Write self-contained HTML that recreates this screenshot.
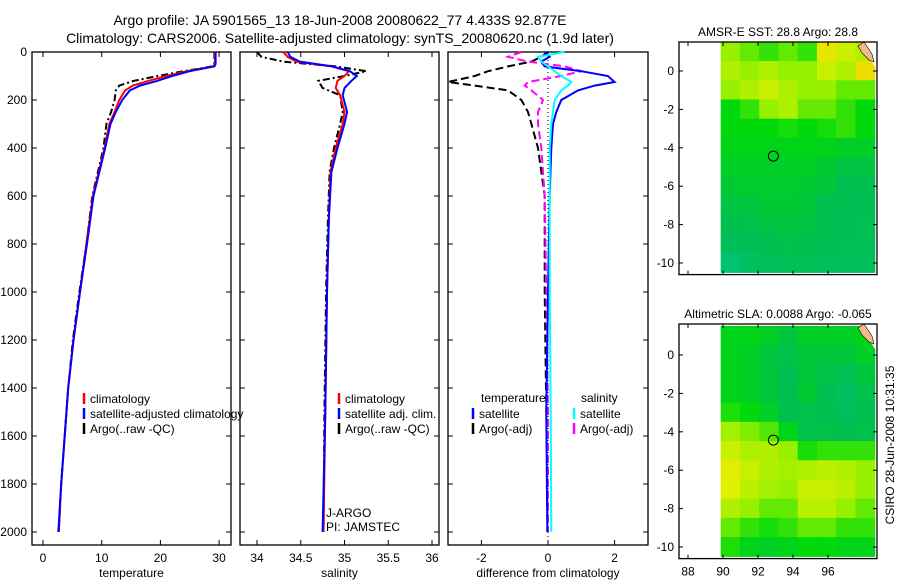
<!DOCTYPE html>
<html><head><meta charset="utf-8"><style>
body{margin:0;background:#fff;width:900px;height:580px;overflow:hidden}
svg{font-family:"Liberation Sans",sans-serif}
</style></head><body>
<svg id="c" width="900" height="580" xmlns="http://www.w3.org/2000/svg">
<text x="340" y="25" font-size="14" text-anchor="middle">Argo profile: JA 5901565_13 18-Jun-2008 20080622_77 4.433S 92.877E</text>
<text x="340" y="43" font-size="14" text-anchor="middle">Climatology: CARS2006. Satellite-adjusted climatology: synTS_20080620.nc (1.9d later)</text>
<g id="g"></g>
</svg>
<script>
// ---- data ----
const tDepth=[0,50,60,80,100,120,140,160,200,250,300,400,600,800,1000,1200,1400,1600,1800,2000];
const tClim=[29.3,29.3,29,24.5,21,18,15.3,14,13,12.2,11.3,10.5,8.5,7.4,6.3,5.2,4.3,3.7,3.1,2.7];
const tSat=[29.4,29.4,29.2,25,22,19.5,16.5,14.8,13.5,12.4,11.5,10.6,8.6,7.5,6.3,5.2,4.3,3.7,3.1,2.6];
const tArgo=[29.2,29.2,28.8,24,19.5,15.5,13,12.4,12.2,11.6,10.8,10.3,8.4,7.4,6.2,5.1,4.3,3.7,3.1,2.7];
const sDepth=[0,20,40,60,80,100,120,150,180,250,300,400,500,700,1000,1500,2000];
const sClim=[34.3,34.35,34.45,34.85,35.05,35.0,34.92,34.9,34.95,35.0,34.98,34.9,34.84,34.82,34.8,34.78,34.76];
const sSat=[34.35,34.38,34.49,34.86,35.06,35.14,35.08,35.0,34.98,35.03,35.0,34.92,34.85,34.82,34.8,34.78,34.75];
const sArgo=[34.0,34.05,34.3,34.9,35.25,35.0,34.7,34.75,34.95,34.98,34.95,34.88,34.83,34.81,34.79,34.77,34.76];
const dDepth=[0,20,40,60,80,100,125,140,160,200,250,300,400,600,1000,1500,2000];
const dTSat=[-0.1,0.05,-0.2,-0.1,1.0,1.8,2.0,1.4,0.9,0.4,0.25,0.15,0.1,0.05,0.0,-0.05,-0.02];
const dTArgo=[0,-0.2,-0.5,-1.2,-1.8,-2.2,-3.0,-2.2,-1.2,-0.8,-0.6,-0.5,-0.3,-0.1,-0.1,-0.05,0];
const dSSat=[0.5,-0.3,-0.2,0,0.2,0.4,0.7,0.6,0.4,0.2,0.15,0.1,0.05,0.05,0.05,0.08,0.1];
const dSArgo=[-0.8,-1.2,-0.6,0.5,1.0,0.4,-0.6,-0.7,-0.5,-0.15,-0.3,-0.3,-0.2,-0.1,-0.05,0,0];
const depthTicks=[0,200,400,600,800,1000,1200,1400,1600,1800,2000];
const tempTicks=[0,10,20,30];
const salTicks=[34,34.5,35,35.5,36];
const diffTicks=[-2,0,2];
const latTicks=[0,-2,-4,-6,-8,-10];
const lonTicks=[88,90,92,94,96];
const sstGrid=[
[.55,.5,.45,.5,.45,.75,.65,.6],
[.6,.55,.6,.55,.55,.65,.6,.8],
[.55,.6,.65,.6,.55,.55,.5,.5],
[.4,.45,.55,.6,.5,.5,.45,.4],
[.4,.4,.4,.42,.4,.42,.45,.4],
[.38,.38,.38,.38,.38,.38,.36,.36],
[.36,.36,.36,.36,.36,.34,.32,.32],
[.34,.35,.35,.35,.34,.33,.3,.3],
[.32,.33,.34,.34,.33,.3,.3,.29],
[.3,.31,.32,.33,.32,.3,.29,.28],
[.26,.29,.3,.31,.3,.29,.28,.28],
[.18,.24,.27,.28,.28,.27,.26,.26]];
const slaGrid=[
[.38,.38,.36,.33,.36,.36,.36,.38],
[.38,.36,.33,.31,.33,.33,.33,.36],
[.38,.36,.33,.3,.33,.31,.28,.33],
[.38,.36,.33,.3,.34,.3,.24,.31],
[.43,.4,.36,.3,.31,.3,.26,.3],
[.58,.53,.48,.38,.31,.31,.3,.31],
[.65,.6,.6,.55,.42,.45,.45,.45],
[.72,.65,.6,.58,.6,.62,.6,.55],
[.7,.62,.58,.55,.65,.65,.62,.55],
[.6,.55,.5,.5,.62,.62,.55,.5],
[.5,.45,.42,.45,.5,.5,.45,.45],
[.43,.38,.36,.38,.4,.4,.38,.38]];
const floatLon=92.877, floatLat=-4.433;

const NS='http://www.w3.org/2000/svg', G=document.getElementById('g');
function el(t,a,p){const e=document.createElementNS(NS,t);for(const k in a)e.setAttribute(k,a[k]);(p||G).appendChild(e);return e;}
const yD=d=>52+d*0.24;
function panel(name,x0,x1,xs,ticks,label,showY){
  const r=el('rect',{x:x0,y:52,width:x1-x0,height:493,fill:'none',stroke:'#000','stroke-width':1.3});
  
  
  ticks.forEach(v=>{const x=xs(v);
    el('line',{x1:x,x2:x,y1:545,y2:540,stroke:'#000'});el('line',{x1:x,x2:x,y1:52,y2:57,stroke:'#000'});
    const t=el('text',{x:x,y:562,'font-size':12,'text-anchor':'middle'});t.textContent=v;
    
    });
  depthTicks.forEach(d=>{const y=yD(d);
    el('line',{x1:x0,x2:x0+5,y1:y,y2:y,stroke:'#000'});el('line',{x1:x1,x2:x1-5,y1:y,y2:y,stroke:'#000'});
    if(showY){const t=el('text',{x:x0-5,y:y+4,'font-size':12,'text-anchor':'end'});t.textContent=d;
    
    }});
  const l=el('text',{x:(x0+x1)/2,y:577,'font-size':12,'text-anchor':'middle'});l.textContent=label;
  
  
}
function line(name,xs,depths,vals,color,dash,w){
  const pts=depths.map((d,i)=>xs(vals[i]).toFixed(1)+','+yD(d).toFixed(1)).join(' ');
  const p=el('polyline',{points:pts,fill:'none',stroke:color,'stroke-width':w||2,'stroke-dasharray':dash||'none'});
  
  
}
function legend(x,y,items){items.forEach((it,i)=>{
  el('line',{x1:x,x2:x,y1:y+i*15-5,y2:y+i*15+6,stroke:it[1],'stroke-width':2.5});
  const t=el('text',{x:x+6,y:y+i*15+5,'font-size':12});t.textContent=it[0];
  
  });}

const xT=v=>43+v*5.87, xS=v=>257+(v-34)*87.5, xDf=v=>548+v*33.3;
panel('temperature',32,231,xT,tempTicks,'temperature',true);
line('temp-argo',xT,tDepth,tArgo,'#000','7,3,2,3');
line('temp-climatology',xT,tDepth,tClim,'#f00');
line('temp-satellite',xT,tDepth,tSat,'#00f');
legend(84,398,[['climatology','#f00'],['satellite-adjusted climatology','#00f'],['Argo(..raw -QC)','#000']]);

panel('salinity',240,439,xS,salTicks,'salinity',false);
line('sal-argo',xS,sDepth,sArgo,'#000','7,3,2,3');
line('sal-climatology',xS,sDepth,sClim,'#f00');
line('sal-satellite',xS,sDepth,sSat,'#00f');
legend(339,398,[['climatology','#f00'],['satellite adj. clim.','#00f'],['Argo(..raw -QC)','#000']]);
[['J-ARGO',517],['PI: JAMSTEC',531]].forEach(a=>{const t=el('text',{x:326,y:a[1],'font-size':12});t.textContent=a[0];
 
 });

panel('difference',448,648,xDf,diffTicks,'difference from climatology',false);
el('line',{x1:548,x2:548,y1:52,y2:545,stroke:'#000','stroke-dasharray':'1,3'});
line('diff-temp-argo',xDf,dDepth,dTArgo,'#000','8,4');
line('diff-sal-argo',xDf,dDepth,dSArgo,'#f0f','8,4');
line('diff-temp-satellite',xDf,dDepth,dTSat,'#00f');
line('diff-sal-satellite',xDf,dDepth,dSSat,'#0ff');
const th=el('text',{x:481,y:402,'font-size':12});th.textContent='temperature';


const sh=el('text',{x:581,y:402,'font-size':12});sh.textContent='salinity';


legend(473,413,[['satellite','#00f'],['Argo(-adj)','#000']]);
legend(574,413,[['satellite','#0ff'],['Argo(-adj)','#f0f']]);

function cmap(v){
  const s=[[0,[0,200,160]],[.3,[0,190,80]],[.4,[0,218,10]],[.55,[150,240,0]],[.7,[225,240,0]],[.85,[245,210,0]],[1,[250,170,60]]];
  for(let i=1;i<s.length;i++)if(v<=s[i][0]){const a=s[i-1],b=s[i],f=(v-a[0])/(b[0]-a[0]);
    return 'rgb('+a[1].map((c,k)=>Math.round(c+(b[1][k]-c)*f)).join(',')+')';}
  return 'rgb(250,170,60)';
}
function map(name,top,lat0y,grid,title,showLon){
  const xL=v=>723+(v-90)*17.5, yL=v=>lat0y-v*19.2;
  const cw=19.25;
  const t=el('text',{x:778,y:top-6,'font-size':12,'text-anchor':'middle'});t.textContent=title;
  
  
  grid.forEach((row,r)=>row.forEach((v,c)=>{
    const cell=el('rect',{x:721+c*cw-0.3,y:yL(1.5-r)-0.3,width:cw+0.6,height:19.2+0.6,fill:cmap(v)});
    
    }));
  el('polygon',{points:[[862,top],[877,top],[877,top+28],[868,top+14]].map(p=>p.join(',')).join(' '),fill:'#fff'});
  const land=el('polygon',{points:[[858,top+4],[864,top],[872,top+12],[874,top+20],[869,top+18],[862,top+11]].map(p=>p.join(',')).join(' '),fill:'#f5b88a',stroke:'#000','stroke-width':0.6});
  
  
  const bot=yL(-10.5)+2;
  const ax=el('rect',{x:679,y:top,width:198,height:bot-top,fill:'none',stroke:'#000','stroke-width':1.3});
  
  
  latTicks.forEach(v=>{const y=yL(v);el('line',{x1:679,x2:683,y1:y,y2:y,stroke:'#000'});el('line',{x1:877,x2:873,y1:y,y2:y,stroke:'#000'});
    const l=el('text',{x:674,y:y+4,'font-size':12,'text-anchor':'end'});l.textContent=v;
    
    });
  lonTicks.forEach(v=>{const x=xL(v);el('line',{x1:x,x2:x,y1:top,y2:top+4,stroke:'#000'});el('line',{x1:x,x2:x,y1:bot,y2:bot-4,stroke:'#000'});
    if(showLon){const l=el('text',{x:x,y:bot+17,'font-size':12,'text-anchor':'middle'});l.textContent=v;
    
    }});
  const m=el('circle',{cx:xL(floatLon),cy:yL(floatLat),r:5,fill:'none',stroke:'#000'});
  
  
}
map('sst-map',42,71,sstGrid,'AMSR-E SST: 28.8 Argo: 28.8',false);
map('sla-map',324,355,slaGrid,'Altimetric SLA: 0.0088 Argo: -0.065',true);
const cs=el('text',{x:0,y:0,'font-size':12,'text-anchor':'middle',transform:'translate(894,445) rotate(-90)'});cs.textContent='CSIRO 28-Jun-2008 10:31:35';


</script>
</body></html>
